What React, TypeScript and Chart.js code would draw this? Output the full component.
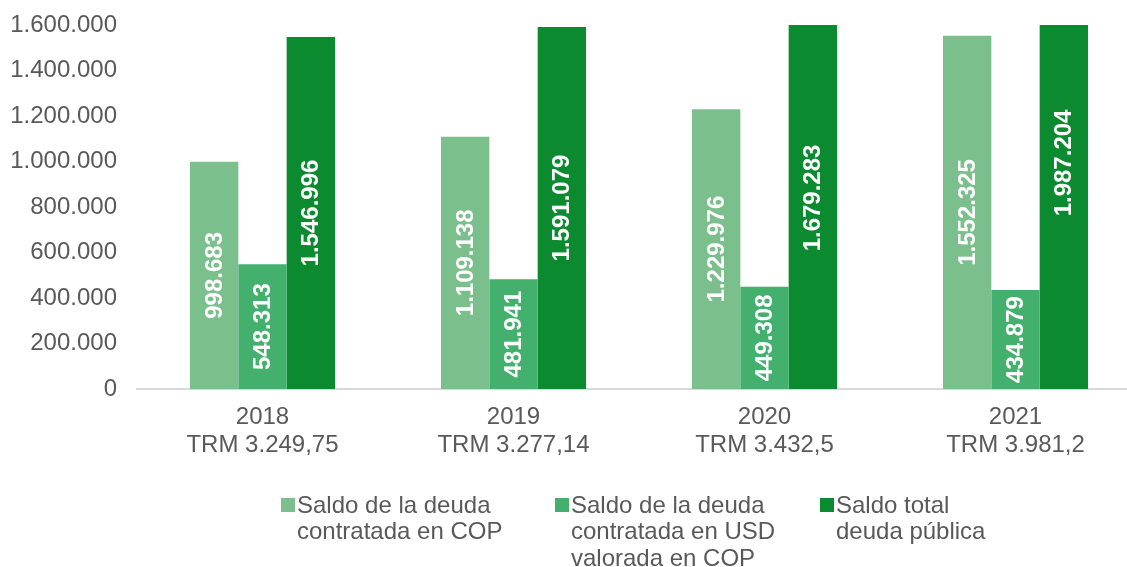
import React, { useEffect, useRef } from "react";
import { Chart, registerables } from "chart.js";

Chart.register(...registerables);

const years = ["2018", "2019", "2020", "2021"];
const trmLabels = ["TRM 3.249,75", "TRM 3.277,14", "TRM 3.432,5", "TRM 3.981,2"];
const saldoCOP = [998683, 1109138, 1229976, 1552325];
const saldoUSD = [548313, 481941, 449308, 434879];
const saldoTotal = [1546996, 1591079, 1679283, 1987204];
const seriesNames = [
  ["Saldo de la deuda", "contratada en COP"],
  ["Saldo de la deuda", "contratada en USD", "valorada en COP"],
  ["Saldo total", "deuda pública"],
];
const colors = ["#7bbf8d", "#43b06e", "#0b8a30"];

const FONT = "'Liberation Sans', Arial, sans-serif";

const fmt = (v: number) =>
  Math.round(v)
    .toString()
    .replace(/\B(?=(\d{3})+(?!\d))/g, ".");

const dataLabelPlugin = {
  id: "dataLabels",
  afterDatasetsDraw(chart: any) {
    const ctx = chart.ctx;
    ctx.save();
    ctx.font = `bold 24px ${FONT}`;
    ctx.fillStyle = "#ffffff";
    ctx.textAlign = "center";
    ctx.textBaseline = "middle";
    chart.data.datasets.forEach((ds: any, di: number) => {
      const meta = chart.getDatasetMeta(di);
      meta.data.forEach((bar: any, i: number) => {
        const cx = bar.x;
        const cy = (bar.y + bar.base) / 2;
        ctx.save();
        ctx.translate(cx, cy);
        ctx.rotate(-Math.PI / 2);
        ctx.fillText(fmt(ds.data[i]), 0, 1);
        ctx.restore();
      });
    });
    ctx.restore();
  },
};

const legendX = [281, 555, 820];

const legendPlugin = {
  id: "customLegend",
  afterDraw(chart: any) {
    const ctx = chart.ctx;
    ctx.save();
    ctx.font = `24px ${FONT}`;
    ctx.textAlign = "left";
    ctx.textBaseline = "alphabetic";
    seriesNames.forEach((lines, i) => {
      const x = legendX[i];
      ctx.fillStyle = colors[i];
      ctx.fillRect(x, 498, 14, 14);
      ctx.fillStyle = "#595959";
      lines.forEach((t, li) => {
        ctx.fillText(t, x + 16, 512.5 + li * 26.7);
      });
    });
    ctx.restore();
  },
};

export default function App() {
  const ref = useRef<HTMLCanvasElement | null>(null);
  useEffect(() => {
    if (!ref.current) return;
    const chart = new Chart(ref.current, {
      type: "bar",
      data: {
        labels: years.map((y, i) => [y, trmLabels[i]]),
        datasets: [
          { label: seriesNames[0].join(" "), data: saldoCOP, backgroundColor: colors[0] },
          { label: seriesNames[1].join(" "), data: saldoUSD, backgroundColor: colors[1] },
          { label: seriesNames[2].join(" "), data: saldoTotal, backgroundColor: colors[2] },
        ],
      },
      options: {
        responsive: false,
        animation: false,
        devicePixelRatio: 1,
        layout: { padding: { left: 8, top: 25, right: 9, bottom: 98 } },
        datasets: { bar: { categoryPercentage: 0.578, barPercentage: 1 } },
        plugins: { legend: { display: false }, tooltip: { enabled: false } },
        scales: {
          x: {
            grid: { display: false },
            border: { display: true, color: "#d9d9d9", width: 2 },
            afterFit: (scale: any) => {
              scale.height = 80;
            },
            ticks: {
              color: "#595959",
              font: { family: FONT, size: 24, lineHeight: 1.17 },
              padding: 6,
              maxRotation: 0,
              autoSkip: false,
            },
          },
          y: {
            min: 0,
            max: 1600000,
            grid: { display: false, drawTicks: false },
            border: { display: false },
            afterFit: (scale: any) => {
              scale.width = 129;
              scale.paddingTop = 0;
              scale.paddingBottom = 0;
            },
            ticks: {
              stepSize: 200000,
              color: "#595959",
              font: { family: FONT, size: 24 },
              padding: 20,
              callback: (v: any) => fmt(Number(v)),
            },
          },
        },
      },
      plugins: [dataLabelPlugin, legendPlugin],
    });
    return () => chart.destroy();
  }, []);
  return (
    <div
      style={{
        position: "fixed",
        left: 0,
        top: 0,
        width: 1127,
        height: 567,
        overflow: "hidden",
        background: "#fff",
      }}
    >
      <canvas ref={ref} width={1150} height={567} style={{ display: "block" }} />
    </div>
  );
}
